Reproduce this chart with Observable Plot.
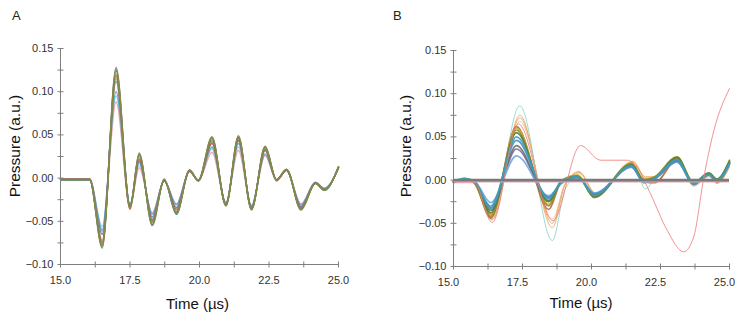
<!DOCTYPE html>
<html>
<head>
<meta charset="utf-8">
<script src="https://cdn.jsdelivr.net/npm/d3@7"></script>
<script src="https://cdn.jsdelivr.net/npm/@observablehq/plot@0.6"></script>
<style>
  body { margin: 0; background: #fff; }
  #wrap { position: relative; width: 745px; height: 316px; overflow: hidden; font-family: "Liberation Sans", Arial, sans-serif; }
  #wrap > svg { position: absolute; top: 0; }
</style>
</head>
<body>
<div id="wrap"></div>
<script>
// ---------- axis ticks ----------
const xLabels = [15.0, 17.5, 20.0, 22.5, 25.0];
const xTicks = [15, 16.25, 17.5, 18.75, 20, 21.25, 22.5, 23.75, 25];
const yLabels = [-0.10, -0.05, 0.00, 0.05, 0.10, 0.15];
const yTicks = [-0.1, -0.075, -0.05, -0.025, 0, 0.025, 0.05, 0.075, 0.1, 0.125, 0.15];

// ---------- Panel A: knot times (µs) and traces ----------
const tA = [15.0, 16.05, 16.5, 17.0, 17.5, 17.83, 18.3, 18.73, 19.17, 19.64, 19.96, 20.45, 20.95, 21.4, 21.87, 22.36, 22.77, 23.13, 23.65, 24.17, 24.49, 25.0];
const aLightBlue = [-0.002,-0.002,-0.056,0.095,-0.030,0.015,-0.041,-0.003,-0.030,0.008,-0.003,0.034,-0.028,0.036,-0.032,0.027,-0.002,0.009,-0.030,-0.005,-0.012,0.012];
const aPink      = [-0.001,-0.001,-0.062,0.088,-0.033,0.012,-0.040,-0.003,-0.030,0.008,-0.003,0.030,-0.028,0.032,-0.033,0.026,-0.002,0.009,-0.030,-0.005,-0.012,0.011];
const aTeal      = [-0.001,-0.001,-0.060,0.100,-0.030,0.018,-0.042,-0.003,-0.031,0.008,-0.003,0.036,-0.029,0.040,-0.032,0.028,-0.002,0.009,-0.031,-0.005,-0.012,0.012];
const aBlue      = [-0.002,-0.002,-0.065,0.112,-0.031,0.020,-0.045,-0.003,-0.034,0.008,-0.003,0.042,-0.030,0.043,-0.034,0.033,-0.002,0.009,-0.033,-0.005,-0.013,0.012];
const aOrange    = [-0.001,-0.001,-0.072,0.115,-0.035,0.024,-0.050,-0.002,-0.038,0.009,-0.003,0.043,-0.031,0.045,-0.036,0.033,-0.002,0.010,-0.035,-0.006,-0.014,0.013];
const aRed       = [-0.001,-0.001,-0.074,0.118,-0.036,0.022,-0.048,-0.003,-0.036,0.008,-0.003,0.040,-0.030,0.044,-0.034,0.032,-0.003,0.009,-0.034,-0.006,-0.013,0.012];
const aGreen     = [-0.002,-0.002,-0.076,0.120,-0.034,0.026,-0.052,-0.002,-0.040,0.009,-0.003,0.044,-0.031,0.046,-0.035,0.034,-0.002,0.010,-0.036,-0.006,-0.014,0.013];
const aDarkTeal  = [-0.002,-0.002,-0.079,0.124,-0.033,0.028,-0.054,-0.002,-0.042,0.009,-0.003,0.046,-0.032,0.047,-0.036,0.036,-0.002,0.010,-0.036,-0.006,-0.014,0.013];
const aGray      = [-0.001,-0.001,-0.078,0.128,-0.033,0.027,-0.050,-0.001,-0.039,0.009,-0.002,0.047,-0.031,0.048,-0.036,0.036,-0.002,0.010,-0.035,-0.005,-0.013,0.012];
const aOlive     = [-0.002,-0.002,-0.081,0.126,-0.035,0.029,-0.055,-0.002,-0.041,0.009,-0.003,0.048,-0.032,0.049,-0.037,0.037,-0.002,0.010,-0.037,-0.006,-0.014,0.013];
const tracesA = [aLightBlue, aPink, aTeal, aBlue, aOrange, aRed, aGreen, aDarkTeal, aGray, aOlive];
const colorsA = ["#9dc3e6", "#e8a0a8", "#4bacc6", "#4f81bd", "#f79646", "#c0504d", "#77a04a", "#2f8a8a", "#808080", "#8a8a3a"];

// ---------- Panel B ----------
const tB  = [15.0, 15.4, 15.75, 16.35, 17.28, 18.45, 18.9, 19.5, 20.1, 21.45, 21.9, 22.3, 23.1, 23.7, 24.25, 24.55, 25.0];
const tBw = [15.0, 15.4, 15.75, 16.4, 17.4, 18.58, 19.05, 19.55, 20.15, 21.5, 21.95, 22.3, 23.1, 23.7, 24.25, 24.55, 25.0];
const bTan       = [-0.003, 0.000,-0.003,-0.046,0.072,-0.050,-0.004,0.009,-0.015,0.021, 0.002, 0.003,0.022,-0.007,0.004,-0.004,0.015];
const bOrange    = [-0.003, 0.002,-0.003,-0.045,0.075,-0.055,-0.005,0.010,-0.016,0.022, 0.004, 0.004,0.024,-0.006,0.005,-0.003,0.016];
const bOrange2   = [-0.002, 0.001,-0.002,-0.043,0.068,-0.045,-0.004,0.008,-0.017,0.021, 0.003, 0.003,0.025,-0.005,0.006,-0.002,0.018];
const bTealLight = [-0.002, 0.001,-0.002,-0.040,0.086,-0.070,-0.010,0.004,-0.016,0.018,-0.010, 0.002,0.022,-0.005,0.006,-0.001,0.017];
const tracesBw = [bTan, bOrange, bOrange2, bTealLight];
const colorsBw = ["#d49a64", "#eea04a", "#f2b478", "#80cfc2"];

const bBrown     = [-0.002, 0.001,-0.003,-0.044,0.062,-0.034,-0.002,0.005,-0.020,0.018,-0.002,-0.003,0.024,-0.005,0.007,-0.002,0.020];
const bGold      = [-0.003, 0.002,-0.002,-0.040,0.060,-0.028,-0.001,0.006,-0.019,0.020, 0.001, 0.004,0.026,-0.003,0.008, 0.001,0.021];
const bOlive     = [-0.003, 0.001,-0.003,-0.042,0.058,-0.030,-0.001,0.005,-0.020,0.019, 0.000, 0.004,0.027,-0.003,0.008, 0.001,0.023];
const bPurple    = [-0.002, 0.000,-0.002,-0.032,0.036,-0.020,-0.004,0.003,-0.016,0.015,-0.002, 0.002,0.021,-0.004,0.006, 0.000,0.019];
const bGray      = [-0.002, 0.000,-0.002,-0.035,0.040,-0.024,-0.003,0.003,-0.017,0.016,-0.002, 0.002,0.023,-0.004,0.006, 0.000,0.020];
const bBlue2     = [-0.001, 0.001,-0.001,-0.026,0.028,-0.018,-0.004,0.003,-0.015,0.015,-0.003, 0.002,0.021,-0.005,0.006, 0.000,0.018];
const bDarkGreen = [-0.002, 0.000,-0.002,-0.038,0.055,-0.025,-0.002,0.004,-0.019,0.018,-0.001, 0.003,0.026,-0.004,0.008, 0.001,0.022];
const bBlue      = [-0.002, 0.001,-0.002,-0.030,0.046,-0.020,-0.003,0.003,-0.016,0.016,-0.002, 0.002,0.022,-0.005,0.006, 0.000,0.019];
const bTeal      = [-0.001, 0.002,-0.001,-0.033,0.050,-0.022,-0.002,0.004,-0.018,0.017,-0.003, 0.003,0.024,-0.004,0.007, 0.000,0.020];
const tracesB = [bBrown, bGold, bOlive, bPurple, bGray, bBlue2, bDarkGreen, bBlue, bTeal];
const colorsB = ["#b0683c", "#d4b040", "#8f8f30", "#7b6ba3", "#6e6e6e", "#6fa8dc", "#5b7b2e", "#4a8cc4", "#3aa0b4"];

const tPink = [15.0, 15.75, 16.4, 17.35, 18.6, 19.6, 20.33, 21.29, 21.65, 22.14, 22.74, 23.34, 23.7, 24.07, 24.43, 25.0];
const vPink = [-0.003, -0.003, -0.049, 0.065, -0.047, 0.040, 0.023, 0.023, 0.015, -0.016, -0.058, -0.083, -0.066, 0.003, 0.057, 0.106];

const baselineB = [0.0];
const baselinePinkB = [-0.002];

// ---------- helpers ----------
const axisColor = "#7f7f7f";
const textColor = "#333333";
const fontFamily = "'Liberation Sans', Arial, sans-serif";

// cross tick glyphs (6px long) used as dot symbols
const hTick = {draw(ctx) { ctx.moveTo(-3, 0); ctx.lineTo(3, 0); }};
const vTick = {draw(ctx) { ctx.moveTo(0, -3); ctx.lineTo(0, 3); }};

function traceMark(times, vals, color, width, opacity) {
  return Plot.line(times.map((t, i) => [t, vals[i]]), {
    x: d => d[0], y: d => d[1], stroke: color, strokeWidth: width,
    strokeOpacity: opacity, curve: "monotone-x"
  });
}

function axisMarks(xLabelDx, xLabelDy) {
  return [
    Plot.ruleX([15], {stroke: axisColor, strokeWidth: 1}),
    Plot.ruleY([-0.1], {stroke: axisColor, strokeWidth: 1}),
    Plot.dot(yTicks, {x: () => 15, y: d => d, symbol: hTick, stroke: axisColor, strokeWidth: 1, fill: "none"}),
    Plot.dot(xTicks, {x: d => d, y: () => -0.1, symbol: vTick, stroke: axisColor, strokeWidth: 1, fill: "none"}),
    Plot.text(yLabels, {y: d => d, frameAnchor: "left", textAnchor: "end", dx: -7,
      text: d3.format(".2f"), fontSize: 11, fill: textColor}),
    Plot.text(xLabels, {x: d => d, frameAnchor: "bottom", dy: xLabelDy, dx: xLabelDx,
      text: d3.format(".1f"), fontSize: 11, fill: textColor})
  ];
}

const wrap = document.getElementById("wrap");

// ---------- Panel A ----------
const plotA = Plot.plot({
  width: 372, height: 316,
  marginLeft: 60, marginRight: 34, marginTop: 48, marginBottom: 52,
  style: {fontFamily, fontSize: "11px", background: "transparent", overflow: "visible"},
  x: {domain: [15, 25], axis: null},
  y: {domain: [-0.1, 0.15], axis: null},
  marks: [
    ...tracesA.map((v, i) => traceMark(tA, v, colorsA[i], 1.4, 0.9)),
    ...axisMarks(0, 19.5)
  ]
});
plotA.style.left = "0px";
wrap.appendChild(plotA);

// ---------- Panel B ----------
const plotB = Plot.plot({
  width: 372, height: 316,
  marginLeft: 80, marginRight: 16, marginTop: 50, marginBottom: 50,
  style: {fontFamily, fontSize: "11px", background: "transparent", overflow: "visible"},
  x: {domain: [15, 25], axis: null},
  y: {domain: [-0.1, 0.15], axis: null},
  marks: [
    ...tracesBw.map((v, i) => traceMark(tBw, v, colorsBw[i], 0.9, 0.85)),
    ...tracesB.map((v, i) => traceMark(tB, v, colorsB[i], 1.7, 0.9)),
    traceMark(tPink, vPink, "#ee8080", 0.9, 0.95),
    Plot.ruleY(baselinePinkB, {stroke: "#e4a8b6", strokeWidth: 1.5}),
    Plot.ruleY(baselineB, {stroke: "#7a7a7a", strokeWidth: 2.8}),
    ...axisMarks(-5, 19.5)
  ]
});
plotB.style.left = "373px";
wrap.appendChild(plotB);

// ---------- Text overlay (panel letters, axis titles) ----------
const overlay = d3.select(wrap).append("svg")
  .attr("width", 745).attr("height", 316)
  .style("left", "0px").style("pointer-events", "none")
  .style("font-family", fontFamily);

const panelLetters = [{t: "A", x: 12, y: 20}, {t: "B", x: 393, y: 20}];
overlay.selectAll("text.letter").data(panelLetters).join("text")
  .attr("class", "letter").attr("x", d => d.x).attr("y", d => d.y)
  .attr("font-size", 13).attr("fill", "#222").text(d => d.t);

const xTitles = [{x: 197.5, y: 309}, {x: 581, y: 308}];
overlay.selectAll("text.xt").data(xTitles).join("text")
  .attr("class", "xt").attr("x", d => d.x).attr("y", d => d.y)
  .attr("text-anchor", "middle").attr("font-size", 15).attr("fill", "#111")
  .text("Time (µs)");

const yTitles = [{x: 20, y: 146}, {x: 411, y: 146}];
overlay.selectAll("text.yt").data(yTitles).join("text")
  .attr("class", "yt")
  .attr("transform", d => `translate(${d.x},${d.y}) rotate(-90)`)
  .attr("text-anchor", "middle").attr("font-size", 15.5).attr("fill", "#111")
  .text("Pressure (a.u.)");
</script>
</body>
</html>
